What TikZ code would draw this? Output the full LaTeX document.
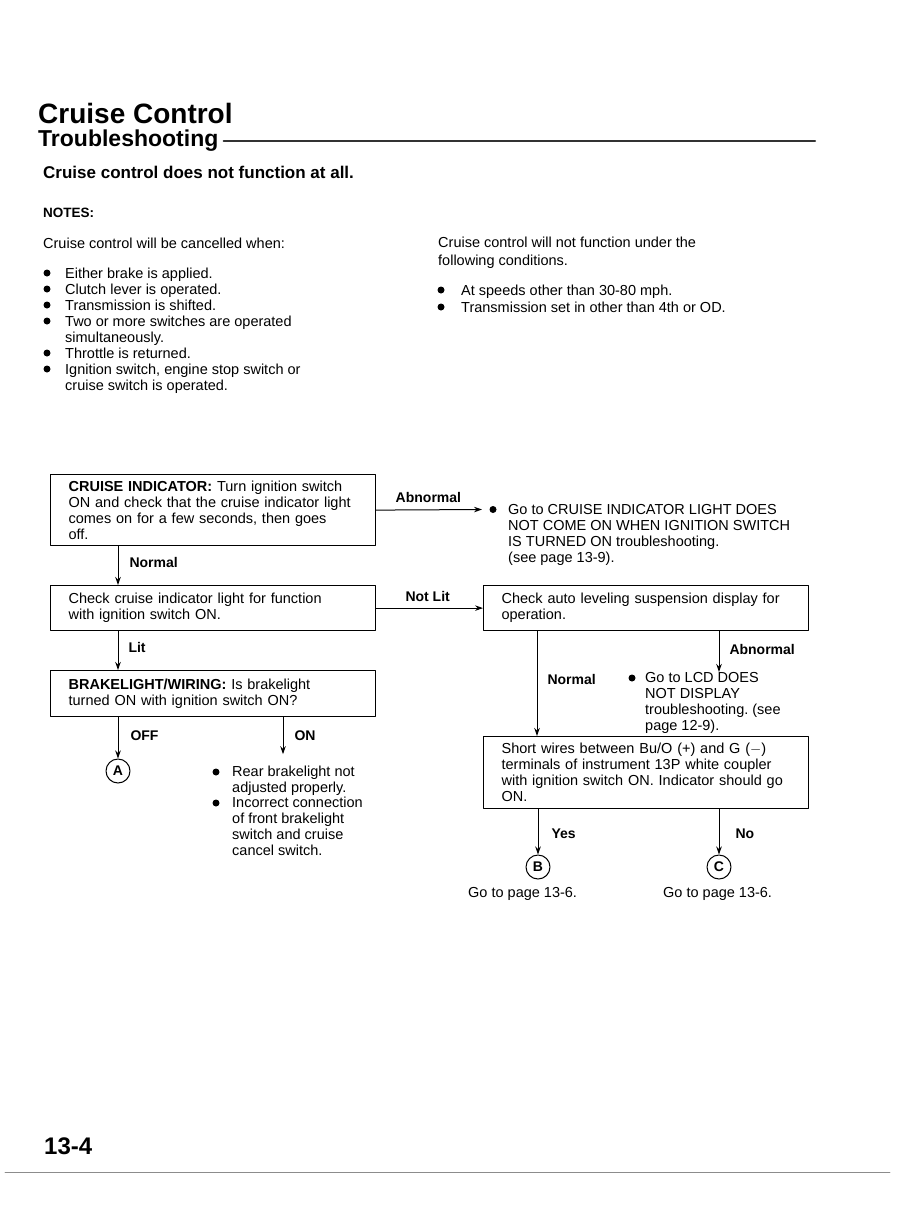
\documentclass[tikz,border=0pt]{standalone}
\usepackage{fontspec}
\setmainfont{Liberation Sans}
\usetikzlibrary{arrows.meta,positioning,calc}
\newcommand{\bodyfont}{\fontsize{14.5}{16}\selectfont}
\newcommand{\lblfont}{\fontsize{14}{16}\selectfont\bfseries}
\frenchspacing
\tikzset{
	box/.style={draw, line width=1.2pt, rectangle, anchor=north west, inner xsep=18pt, inner ysep=0pt, align=left, text width=289pt, font=\bodyfont},
	flow/.style={line width=1pt, -{Stealth[length=8pt,width=5.5pt]}},
	lbl/.style={font=\lblfont, anchor=base west, inner sep=0pt, yshift=-5pt},
	txt/.style={anchor=north west, align=left, inner sep=0pt, font=\bodyfont},
	item/.style={anchor=base west, inner sep=0pt, font=\bodyfont, yshift=-5pt},
	goto/.style={draw, circle, line width=1pt, minimum size=24pt, inner sep=0pt, font=\lblfont},
	dot/.style={fill, circle, inner sep=0pt, minimum size=7pt},
}
\begin{document}
\begin{tikzpicture}[x=1pt, y=-1pt, line join=round, line cap=round]
	\useasboundingbox[fill=white] (0,0) rectangle (904,1205);
	% heading
	\node[anchor=west, inner sep=0pt, font=\fontsize{28}{30}\selectfont\bfseries] (title) at (38,113) {Cruise Control};
	\node[anchor=west, inner sep=0pt, font=\fontsize{23}{24}\selectfont\bfseries] (sub) at (38,141) {Troubleshooting};
	\draw[line width=2pt, black!80] ([xshift=5pt]sub.east) -- (815,141);
	\node[anchor=west, inner sep=0pt, font=\fontsize{17}{18}\selectfont\bfseries] (symptom) at (43,172) {Cruise control does not function at all.};
	\node[anchor=west, inner sep=0pt, font=\fontsize{13.5}{16}\selectfont\bfseries] (notes) at (43,213) {NOTES:};
	% notes, left column
	\node[item] (cancel) at (43,243) {Cruise control will be cancelled when:};
	\foreach \y/\t in {273/Either brake is applied., 289/Clutch lever is operated., 305/Transmission is shifted., 321/Two or more switches are operated, 353/Throttle is returned., 369/{Ignition switch, engine stop switch or}}{
		\node[dot] at (47,\y) {};
		\node[item] at (65,\y) {\t};
	}
	\node[item] at (65,337) {simultaneously.};
	\node[item] at (65,385) {cruise switch is operated.};
	% notes, right column
	\node[item] (cond) at (438,242) {Cruise control will not function under the};
	\node[item] (cond2) at (438,260) {following conditions.};
	\node[dot] at (441,290) {};
	\node[item] at (461,290) {At speeds other than 30-80 mph.};
	\node[dot] at (441,307) {};
	\node[item] at (461,307) {Transmission set in other than 4th or OD.};

	% flowchart
	\node[box, minimum height=71pt] (indicator) at (50,474) {\textbf{CRUISE INDICATOR:} Turn ignition switch\\ON and check that the cruise indicator light\\comes on for a few seconds, then goes\\off.};
	\node[box, minimum height=45pt] (function) at (50,585) {Check cruise indicator light for function\\with ignition switch ON.};
	\node[box, minimum height=45pt] (display) at (483,585) {Check auto leveling suspension display for\\operation.};
	\node[box, minimum height=46pt] (brake) at (50,670) {\textbf{BRAKELIGHT/WIRING:} Is brakelight\\turned ON with ignition switch ON?};
	\node[box, minimum height=72pt] (short) at (483,736) {Short wires between Bu/O (+) and G ($-$)\\terminals of instrument 13P white coupler\\with ignition switch ON. Indicator should go\\ON.};

	% results
	\node[dot] (d1) at (493,509.5) {};
	\node[txt] (cruisego) at (508,504) {Go to CRUISE INDICATOR LIGHT DOES\\NOT COME ON WHEN IGNITION SWITCH\\IS TURNED ON troubleshooting.\\(see page 13-9).};
	\node[dot] (d2) at (632,678) {};
	\node[txt] (lcd) at (645,672) {Go to LCD DOES\\NOT DISPLAY\\troubleshooting. (see\\page 12-9).};
	\node[dot] at (216,772) {};
	\node[txt] (rear) at (232,766) {Rear brakelight not\\adjusted properly.};
	\node[dot] at (216,803) {};
	\node[txt] (front) at (232,797) {Incorrect connection\\of front brakelight\\switch and cruise\\cancel switch.};
	\node[goto] (A) at (118,771) {A};
	\node[goto] (B) at (538,867) {B};
	\node[goto] (C) at (719,867) {C};
	\node[item] (pageB) at (468,892) {Go to page 13-6.};
	\node[item] (pageC) at (663,892) {Go to page 13-6.};

	% connectors
	\draw[flow] (indicator.east) -- ([xshift=-11pt]d1.center) node[lbl, pos=0.18, yshift=12pt] {Abnormal};
	\draw[flow] ([xshift=68pt]indicator.south west) -- ([xshift=68pt]function.north west) node[lbl, pos=0.43, xshift=11pt] {Normal};
	\draw[flow] (function.east) -- (display.west) node[lbl, pos=0.27, yshift=12pt] {Not Lit};
	\draw[flow] ([xshift=68pt]function.south west) -- ([xshift=68pt]brake.north west) node[lbl, pos=0.42, xshift=10pt] {Lit};
	\draw[flow] ([xshift=68pt]brake.south west) -- (A.north) node[lbl, pos=0.44, xshift=12pt] {OFF};
	\draw[flow] ([xshift=233pt]brake.south west) -- ++(0,37) coordinate (onend) node[lbl, pos=0.5, xshift=11pt] {ON};
	\draw[flow] ([xshift=54pt]display.south west) -- ([xshift=54pt]short.north west) node[lbl, pos=0.46, xshift=10pt] {Normal};
	\draw[flow] ([xshift=236pt]display.south west) -- ([xshift=236pt]display.south west |- lcd.north) node[lbl, pos=0.45, xshift=10pt] {Abnormal};
	\draw[flow] ([xshift=55pt]short.south west) -- (B.north) node[lbl, midway, xshift=13pt, yshift=-2pt] {Yes};
	\draw[flow] ([xshift=236pt]short.south west) -- (C.north) node[lbl, midway, xshift=16pt, yshift=-2pt] {No};

	% footer
	\node[anchor=west, inner sep=0pt, font=\fontsize{24}{26}\selectfont\bfseries] (pageno) at (44,1146) {13-4};
	\draw[black!45, line width=0.8pt, dash pattern=on 3pt off 0.6pt] (5,1172) -- (890,1172);
\end{tikzpicture}
\end{document}
